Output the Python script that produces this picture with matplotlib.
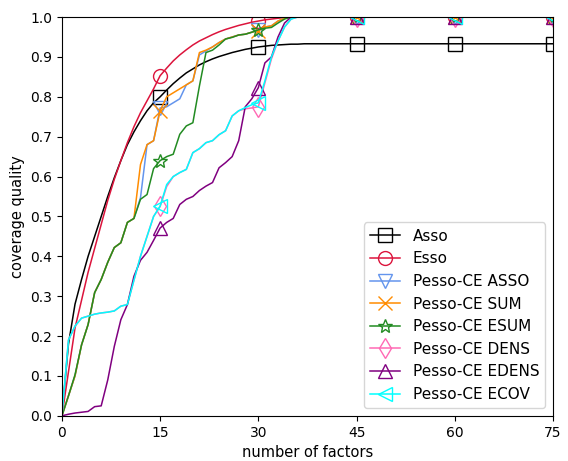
import matplotlib
matplotlib.use('Agg')
import matplotlib.pyplot as plt
import numpy as np

# number of factors 0..40, values after 40 stay flat up to 75
factors = list(range(76))

asso = [0.0, 0.18, 0.28, 0.342, 0.40, 0.45, 0.50, 0.55, 0.597, 0.64,
        0.68, 0.712, 0.74, 0.765, 0.785, 0.80, 0.817, 0.833, 0.847, 0.86,
        0.87, 0.88, 0.888, 0.895, 0.901, 0.906, 0.911, 0.915, 0.919, 0.922,
        0.925, 0.927, 0.929, 0.93, 0.931, 0.932, 0.932, 0.933, 0.933, 0.933,
        0.933] + [0.933] * 35
esso = [0.0, 0.11, 0.22, 0.29, 0.36, 0.42, 0.48, 0.54, 0.593, 0.64,
        0.685, 0.725, 0.76, 0.79, 0.82, 0.853, 0.872, 0.89, 0.905, 0.918,
        0.93, 0.94, 0.948, 0.956, 0.963, 0.969, 0.974, 0.979, 0.983, 0.987,
        0.99, 0.993, 0.995, 0.997, 0.999, 1.0, 1.0, 1.0, 1.0, 1.0,
        1.0] + [1.0] * 35
pce_asso = [0.0, 0.05, 0.10, 0.178, 0.229, 0.309, 0.342, 0.385, 0.422, 0.434,
            0.485, 0.495, 0.547, 0.68, 0.69, 0.772, 0.775, 0.785, 0.795, 0.83,
            0.84, 0.905, 0.915, 0.925, 0.936, 0.945, 0.95, 0.955, 0.957, 0.962,
            0.968, 0.975, 0.978, 0.99, 0.997, 1.0, 1.0, 1.0, 1.0, 1.0,
            1.0] + [1.0] * 35
pce_sum = [0.0, 0.05, 0.10, 0.178, 0.229, 0.309, 0.342, 0.385, 0.422, 0.434,
           0.485, 0.495, 0.63, 0.68, 0.69, 0.765, 0.80, 0.81, 0.82, 0.83,
           0.84, 0.911, 0.917, 0.925, 0.936, 0.945, 0.95, 0.955, 0.957, 0.962,
           0.966, 0.975, 0.978, 0.99, 0.997, 1.0, 1.0, 1.0, 1.0, 1.0,
           1.0] + [1.0] * 35
pce_esum = [0.0, 0.05, 0.103, 0.178, 0.229, 0.309, 0.342, 0.385, 0.422, 0.434,
            0.485, 0.495, 0.543, 0.555, 0.62, 0.64, 0.65, 0.656, 0.706, 0.727,
            0.735, 0.827, 0.911, 0.917, 0.93, 0.945, 0.949, 0.955, 0.957, 0.962,
            0.968, 0.972, 0.974, 0.985, 0.995, 1.0, 1.0, 1.0, 1.0, 1.0,
            1.0] + [1.0] * 35
pce_dens = [0.0, 0.19, 0.225, 0.245, 0.25, 0.255, 0.258, 0.26, 0.263, 0.275,
            0.279, 0.34, 0.40, 0.45, 0.50, 0.525, 0.575, 0.60, 0.61, 0.618,
            0.66, 0.67, 0.685, 0.69, 0.705, 0.715, 0.752, 0.765, 0.77, 0.772,
            0.775, 0.835, 0.895, 0.94, 0.975, 0.995, 1.0, 1.0, 1.0, 1.0,
            1.0] + [1.0] * 35
pce_edens = [0.0, 0.004, 0.007, 0.009, 0.011, 0.023, 0.025, 0.09, 0.174, 0.241,
             0.279, 0.35, 0.39, 0.41, 0.44, 0.471, 0.485, 0.495, 0.53, 0.543,
             0.55, 0.565, 0.576, 0.585, 0.622, 0.635, 0.65, 0.69, 0.775, 0.795,
             0.823, 0.885, 0.90, 0.95, 0.985, 1.0, 1.0, 1.0, 1.0, 1.0,
             1.0] + [1.0] * 35
pce_ecov = [0.0, 0.19, 0.225, 0.245, 0.25, 0.255, 0.258, 0.26, 0.263, 0.275,
            0.279, 0.34, 0.40, 0.45, 0.50, 0.526, 0.58, 0.60, 0.61, 0.618,
            0.66, 0.67, 0.685, 0.69, 0.705, 0.715, 0.752, 0.765, 0.773, 0.78,
            0.785, 0.84, 0.90, 0.94, 0.975, 0.995, 1.0, 1.0, 1.0, 1.0,
            1.0] + [1.0] * 35

series = [
    ('Asso', asso, 'black', 's'),
    ('Esso', esso, 'crimson', 'o'),
    ('Pesso-CE ASSO', pce_asso, 'cornflowerblue', 'v'),
    ('Pesso-CE SUM', pce_sum, 'darkorange', 'x'),
    ('Pesso-CE ESUM', pce_esum, 'forestgreen', '*'),
    ('Pesso-CE DENS', pce_dens, 'hotpink', 'd'),
    ('Pesso-CE EDENS', pce_edens, 'purple', '^'),
    ('Pesso-CE ECOV', pce_ecov, 'cyan', '<'),
]

fig = plt.figure(figsize=(5.68, 4.61), dpi=100)
ax = fig.add_subplot(111)
for name, vals, col, mk in series:
    ax.plot(factors, vals, color=col, marker=mk, markevery=list(range(15, 76, 15)),
            markersize=10, markerfacecolor='none', markeredgewidth=1.0,
            linewidth=1.1, label=name)

ax.set_xlim(0, 75)
ax.set_ylim(0, 1)
ax.set_xticks(np.arange(0, 76, 15))
ax.set_yticks(np.arange(0, 1.01, 0.1))
ax.set_xlabel('number of factors', fontsize=10.5)
ax.set_ylabel('coverage quality', fontsize=10.5)
ax.legend(loc='lower right', fontsize=11)
fig.subplots_adjust(left=0.109, right=0.9736, top=0.963, bottom=0.098)
fig.savefig('out.png', dpi=100)
